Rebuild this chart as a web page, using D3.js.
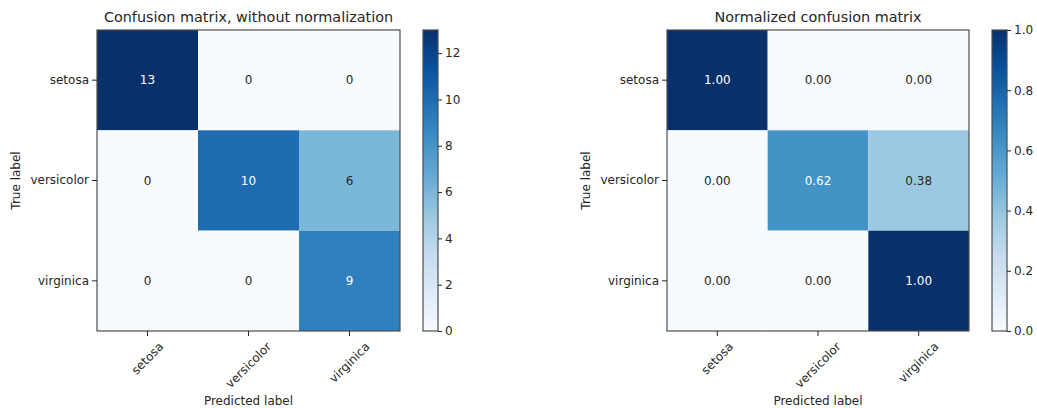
<!DOCTYPE html>
<html>
<head>
<meta charset="utf-8">
<script src="https://cdn.jsdelivr.net/npm/d3@7"></script>
<style>
  html, body { margin: 0; padding: 0; background: #fff; }
  svg { display: block; font-family: "DejaVu Sans", sans-serif; }
</style>
</head>
<body>
<svg id="chart" width="1037" height="408"></svg>
<script>
// ---- data ----
const classes = ["setosa", "versicolor", "virginica"];
const countsMatrix = [
  [13, 0, 0],
  [0, 10, 6],
  [0, 0, 9]
];
const normalizedMatrix = [
  [1.00, 0.00, 0.00],
  [0.00, 0.62, 0.38],
  [0.00, 0.00, 1.00]
];
const countTicks = [0, 2, 4, 6, 8, 10, 12];
const normTicks = [0.0, 0.2, 0.4, 0.6, 0.8, 1.0];
const titles = ["Confusion matrix, without normalization", "Normalized confusion matrix"];
const xAxisLabel = "Predicted label";
const yAxisLabel = "True label";
// matplotlib "Blues" (ColorBrewer 9-class), linearly segmented
const bluesStops = ["#f7fbff","#deebf7","#c6dbef","#9ecae1","#6baed6","#4292c6","#2171b5","#08519c","#08306b"];

const svg = d3.select("#chart");
const textColor = "#262626";
const frameColor = "#4d4d4d";

function drawPanel(cfg) {
  const { left, top, w, h, data, vmax, ticks, fmt, tickFmt, title, cbLeft } = cfg;
  const g = svg.append("g");
  const x = d3.scaleBand().domain(classes).range([left, left + w]).padding(0);
  const y = d3.scaleBand().domain(classes).range([top, top + h]).padding(0);
  const cmap = d3.scaleLinear()
    .domain(bluesStops.map((_, i) => vmax * i / (bluesStops.length - 1)))
    .range(bluesStops)
    .interpolate(d3.interpolateRgb)
    .clamp(true);

  const cells = [];
  data.forEach((row, i) => row.forEach((v, j) => cells.push({ r: classes[i], c: classes[j], v })));

  g.selectAll("rect.cell").data(cells).join("rect")
    .attr("class", "cell")
    .attr("x", d => x(d.c)).attr("y", d => y(d.r))
    .attr("width", x.bandwidth()).attr("height", y.bandwidth())
    .attr("fill", d => cmap(d.v));

  const thresh = vmax / 2;
  g.selectAll("text.val").data(cells).join("text")
    .attr("class", "val")
    .attr("x", d => x(d.c) + x.bandwidth() / 2)
    .attr("y", d => y(d.r) + y.bandwidth() / 2)
    .attr("text-anchor", "middle").attr("dominant-baseline", "central")
    .attr("font-size", 12)
    .attr("fill", d => d.v > thresh ? "#ffffff" : textColor)
    .text(d => fmt(d.v));

  // frame
  g.append("rect").attr("x", left).attr("y", top).attr("width", w).attr("height", h)
    .attr("fill", "none").attr("stroke", frameColor).attr("stroke-width", 1.2);

  // axes
  const xAxis = g.append("g").attr("transform", `translate(0,${top + h})`)
    .call(d3.axisBottom(x).tickSize(5).tickPadding(4));
  xAxis.select(".domain").remove();
  xAxis.selectAll("line").attr("stroke", textColor);
  xAxis.selectAll("text")
    .attr("font-size", 12).attr("font-family", "DejaVu Sans, sans-serif").attr("fill", textColor)
    .attr("text-anchor", "middle")
    .attr("dy", null).attr("y", 0)
    .attr("dominant-baseline", "central")
    .each(function () {
      const L = this.getComputedTextLength();
      const half = (L + 10) * Math.SQRT1_2 / 2;
      d3.select(this).attr("transform", `translate(0,${10 + half}) rotate(-45)`);
    });

  const yAxis = g.append("g").attr("transform", `translate(${left},0)`)
    .call(d3.axisLeft(y).tickSize(5).tickPadding(3));
  yAxis.select(".domain").remove();
  yAxis.selectAll("line").attr("stroke", textColor);
  yAxis.selectAll("text").attr("font-size", 12).attr("font-family", "DejaVu Sans, sans-serif").attr("fill", textColor);

  // titles and labels
  g.append("text").attr("x", left + w / 2).attr("y", top - 8)
    .attr("text-anchor", "middle").attr("font-size", 14.4).attr("fill", textColor).text(title);
  g.append("text").attr("x", left + w / 2).attr("y", 405)
    .attr("text-anchor", "middle").attr("font-size", 12).attr("fill", textColor).text(xAxisLabel);
  g.append("text")
    .attr("transform", `translate(${left - 77},${top + h / 2}) rotate(-90)`)
    .attr("text-anchor", "middle").attr("font-size", 12).attr("fill", textColor).text(yAxisLabel);

  // colorbar
  const cbW = 15;
  const cbScale = d3.scaleLinear().domain([0, vmax]).range([top + h, top]);
  const gradId = "grad" + Math.round(left);
  const grad = svg.append("defs").append("linearGradient").attr("id", gradId)
    .attr("x1", 0).attr("y1", 1).attr("x2", 0).attr("y2", 0);
  bluesStops.forEach((c, i) => grad.append("stop")
    .attr("offset", i / (bluesStops.length - 1)).attr("stop-color", c));
  g.append("rect").attr("x", cbLeft).attr("y", top).attr("width", cbW).attr("height", h)
    .attr("fill", `url(#${gradId})`).attr("stroke", frameColor).attr("stroke-width", 1.2);
  const cbAxis = g.append("g").attr("transform", `translate(${cbLeft + cbW},0)`)
    .call(d3.axisRight(cbScale).tickValues(ticks).tickFormat(tickFmt).tickSize(4).tickPadding(3));
  cbAxis.select(".domain").remove();
  cbAxis.selectAll("line").attr("stroke", textColor);
  cbAxis.selectAll("text").attr("font-size", 12).attr("font-family", "DejaVu Sans, sans-serif").attr("fill", textColor);
}

drawPanel({
  left: 97, top: 30, w: 303, h: 301,
  data: countsMatrix, vmax: d3.max(countsMatrix.flat()),
  ticks: countTicks, fmt: d3.format("d"), tickFmt: d3.format("d"),
  title: titles[0], cbLeft: 423
});
drawPanel({
  left: 667, top: 30, w: 302, h: 301,
  data: normalizedMatrix, vmax: d3.max(normalizedMatrix.flat()),
  ticks: normTicks, fmt: d3.format(".2f"), tickFmt: d3.format(".1f"),
  title: titles[1], cbLeft: 992
});
</script>
</body>
</html>
